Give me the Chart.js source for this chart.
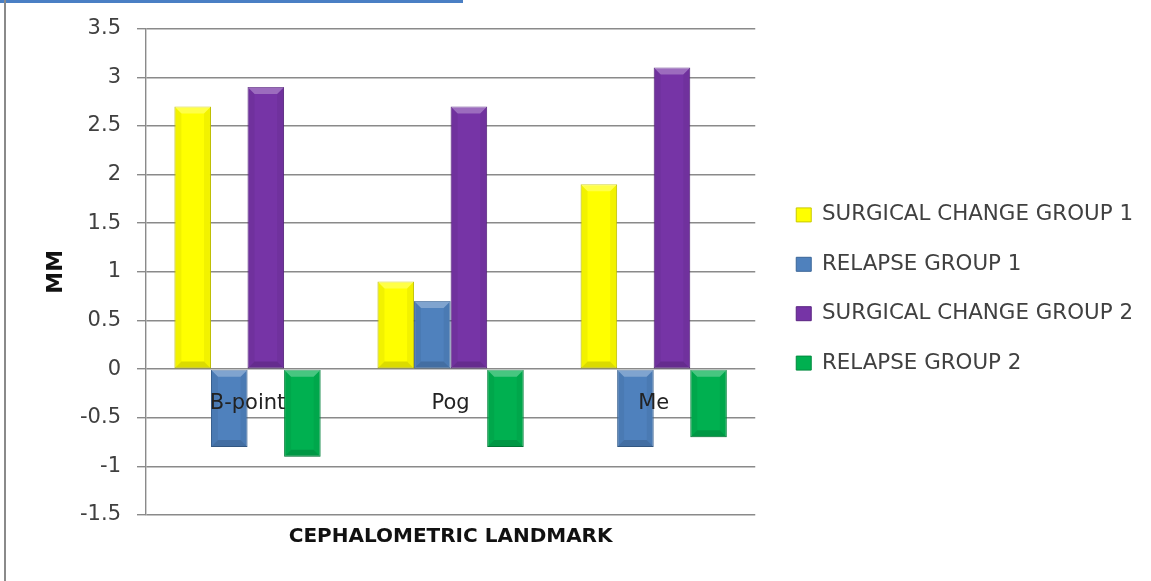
<!DOCTYPE html>
<html>
<head>
<meta charset="utf-8">
<script src="https://cdn.jsdelivr.net/npm/chart.js@4.4.1/dist/chart.umd.min.js"></script>
<style>
  html, body { margin: 0; padding: 0; background: #ffffff; }
  #wrap { position: relative; width: 1151px; height: 581px; overflow: hidden; }
  #topRule { position: absolute; left: 0; top: 0; width: 463px; height: 3px; background: #4a7fc4; }
  #sideRule { position: absolute; left: 4px; top: 0; width: 2px; height: 581px; background: #8a8a8a; }
  canvas { position: absolute; left: 0; top: 0; }
</style>
</head>
<body>
<div id="wrap">
  <canvas id="chart" width="1151" height="581"></canvas>
  <div id="topRule"></div>
  <div id="sideRule"></div>
</div>
<script>
// Cephalometric landmarks on the x axis
const landmarks = ['B-point', 'Pog', 'Me'];

// Mean changes in millimetres for each landmark
const surgicalChangeGroup1 = [2.7, 0.9, 1.9];
const relapseGroup1 = [-0.8, 0.7, -0.8];
const surgicalChangeGroup2 = [2.9, 2.7, 3.1];
const relapseGroup2 = [-0.9, -0.8, -0.7];

// Value axis ticks
const yTickValues = [-1.5, -1, -0.5, 0, 0.5, 1, 1.5, 2, 2.5, 3, 3.5];
const yTickLabels = ['-1.5', '-1', '-0.5', '0', '0.5', '1', '1.5', '2', '2.5', '3', '3.5'];

const FONT = '"DejaVu Sans", Verdana, sans-serif';

// Soft bevel on each bar, taken from the bar element geometry
const bevelPlugin = {
  id: 'bevel',
  afterDatasetsDraw(chart) {
    const ctx = chart.ctx;
    chart.data.datasets.forEach((ds, di) => {
      const meta = chart.getDatasetMeta(di);
      if (meta.hidden) return;
      meta.data.forEach((bar) => {
        const p = bar.getProps(['x', 'y', 'base', 'width'], true);
        const l = p.x - p.width / 2, r = p.x + p.width / 2;
        const t = Math.min(p.y, p.base), b = Math.max(p.y, p.base);
        const h = b - t;
        const bv = Math.min(7, h / 2, p.width / 2);
        ctx.save();
        ctx.fillStyle = 'rgba(255,255,255,0.28)';
        ctx.beginPath();
        ctx.moveTo(l, t); ctx.lineTo(r, t); ctx.lineTo(r - bv, t + bv); ctx.lineTo(l + bv, t + bv); ctx.closePath(); ctx.fill();
        ctx.fillStyle = 'rgba(0,0,0,0.05)';
        ctx.beginPath();
        ctx.moveTo(l, t); ctx.lineTo(l + bv, t + bv); ctx.lineTo(l + bv, b - bv); ctx.lineTo(l, b); ctx.closePath(); ctx.fill();
        ctx.beginPath();
        ctx.moveTo(r, t); ctx.lineTo(r - bv, t + bv); ctx.lineTo(r - bv, b - bv); ctx.lineTo(r, b); ctx.closePath(); ctx.fill();
        ctx.fillStyle = 'rgba(0,0,0,0.14)';
        ctx.beginPath();
        ctx.moveTo(l, b); ctx.lineTo(r, b); ctx.lineTo(r - bv, b - bv); ctx.lineTo(l + bv, b - bv); ctx.closePath(); ctx.fill();
        ctx.restore();
      });
    });
  }
};

const mkSet = (label, data, fill, edge) => ({
  label, data,
  backgroundColor: fill,
  borderColor: edge,
  borderWidth: 1,
  borderSkipped: false,
  xAxisID: 'x',
  yAxisID: 'y'
});

new Chart(document.getElementById('chart'), {
  type: 'bar',
  data: {
    labels: landmarks,
    datasets: [
      mkSet('SURGICAL CHANGE GROUP 1', surgicalChangeGroup1, '#ffff00', '#c9c900'),
      mkSet('RELAPSE GROUP 1', relapseGroup1, '#4f81bd', '#3b6698'),
      mkSet('SURGICAL CHANGE GROUP 2', surgicalChangeGroup2, '#7634a6', '#5a2482'),
      mkSet('RELAPSE GROUP 2', relapseGroup2, '#00b050', '#008a3e')
    ]
  },
  options: {
    responsive: false,
    animation: false,
    devicePixelRatio: 1,
    layout: { padding: { left: 36, right: 8, top: 26, bottom: 29 } },
    datasets: { bar: { categoryPercentage: 0.72, barPercentage: 1.0 } },
    plugins: {
      tooltip: { enabled: false },
      legend: {
        position: 'right',
        maxWidth: 420,
        labels: {
          font: { family: FONT, size: 21.4 },
          color: '#404040',
          boxWidth: 15,
          boxHeight: 14,
          padding: 28
        }
      }
    },
    scales: {
      x: {
        type: 'category',
        position: 'bottom',
        grid: { display: false, drawTicks: false },
        border: { display: false },
        ticks: { display: false },
        title: {
          display: true,
          text: 'CEPHALOMETRIC LANDMARK',
          font: { family: FONT, size: 20, weight: 'bold' },
          color: '#111111',
          padding: { top: 10, bottom: 3 }
        }
      },
      xLabels: {
        type: 'category',
        labels: landmarks,
        position: { y: 0 },
        grid: { display: false, drawTicks: false },
        border: { display: false },
        ticks: {
          z: 1,
          font: { family: FONT, size: 21 },
          color: '#222222',
          padding: 22
        }
      },
      y: {
        min: -1.5,
        max: 3.5,
        afterBuildTicks(scale) {
          scale.ticks = yTickValues.map(v => ({ value: v }));
        },
        afterFit(scale) { scale.width = 110; },
        ticks: {
          callback: (v) => yTickLabels[yTickValues.indexOf(v)],
          font: { family: FONT, size: 21 },
          color: '#404040',
          padding: 16
        },
        grid: { color: '#8a8a8a', lineWidth: 1.4, tickLength: 9 },
        border: { color: '#8a8a8a', width: 1.4 },
        title: {
          display: true,
          text: 'MM',
          font: { family: FONT, size: 22, weight: 'bold' },
          color: '#111111',
          padding: { top: 7, bottom: 0 }
        }
      },
      // empty gap between the plot and the legend
      gap: {
        type: 'linear',
        position: 'right',
        grid: { display: false, drawTicks: false },
        border: { display: false },
        ticks: { display: false },
        afterFit(scale) { scale.width = 13; }
      }
    }
  },
  plugins: [bevelPlugin]
});
</script>
</body>
</html>
